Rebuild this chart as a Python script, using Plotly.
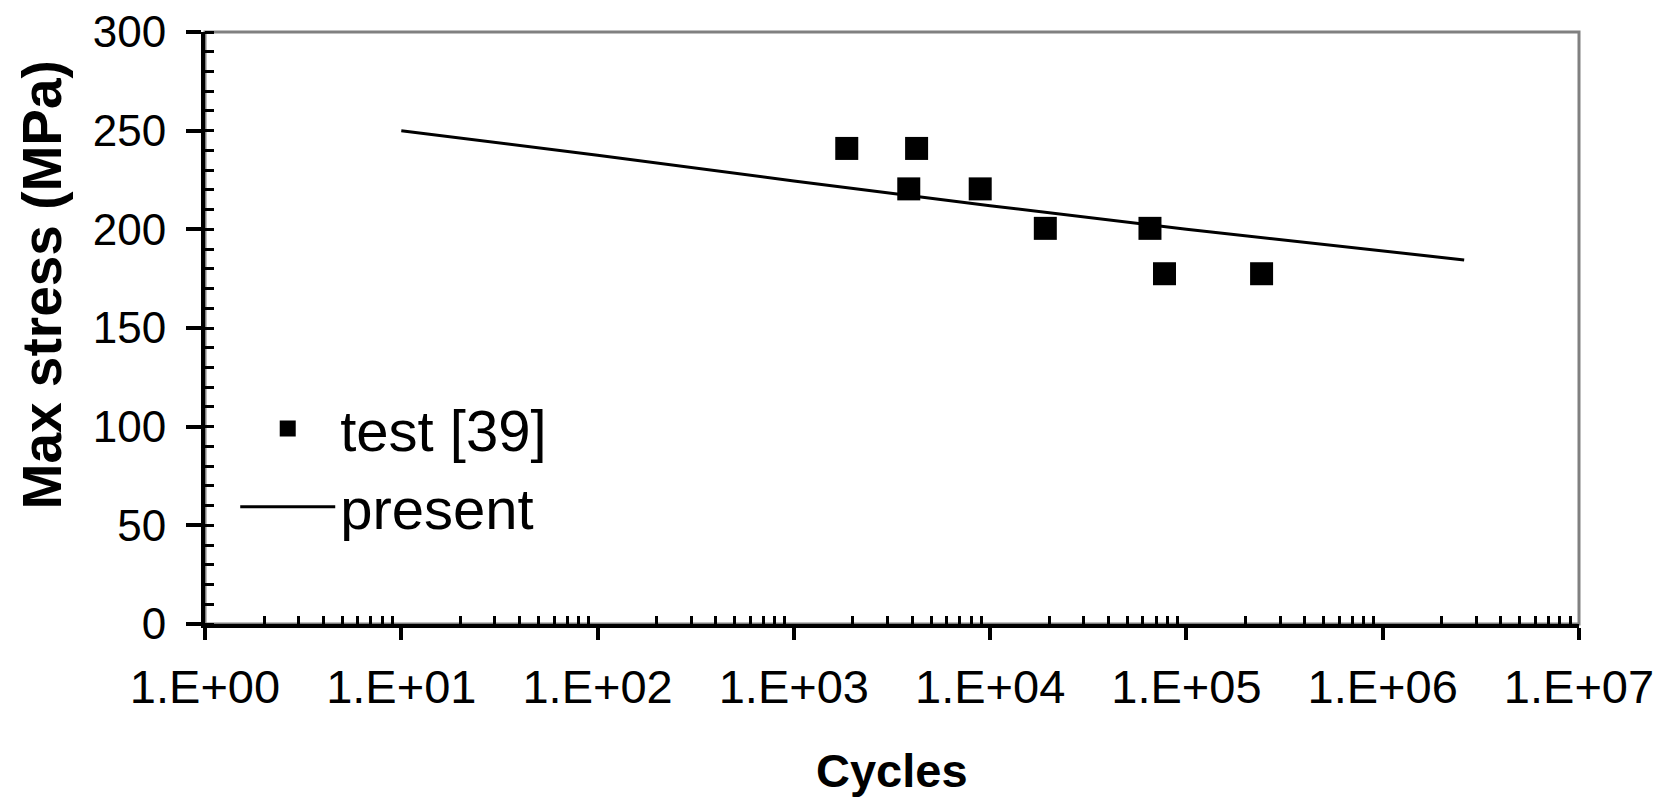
import plotly.graph_objects as go

# Test data [39]
test_cycles = [1860, 4220, 3850, 8900, 19100, 65200, 77300, 241500]
test_stress = [241, 241, 220.5, 220.5, 200.5, 200.5, 177.5, 177.5]

# Present model curve
present_cycles = [10, 100, 1000, 10000, 100000, 1000000, 2600000]
present_stress = [250, 237.5, 224.5, 212, 200, 189, 184.5]

x_tick_vals = [1, 10, 100, 1000, 10000, 100000, 1000000, 10000000]
x_tick_text = ["1.E+00", "1.E+01", "1.E+02", "1.E+03", "1.E+04", "1.E+05", "1.E+06", "1.E+07"]

minor_x = [k * 10 ** d for d in range(0, 7) for k in range(2, 10)]

FONT = "Liberation Sans, Arial, sans-serif"

fig = go.Figure()
fig.add_trace(go.Scatter(
    x=test_cycles, y=test_stress, mode="markers", name="test [39]",
    marker=dict(symbol="square", size=23, color="black", line=dict(width=0)),
))
fig.add_trace(go.Scatter(
    x=present_cycles, y=present_stress, mode="lines", name="present",
    line=dict(color="black", width=3),
))

fig.update_layout(
    width=1667, height=804,
    margin=dict(l=205, r=88, t=32, b=180, autoexpand=False),
    paper_bgcolor="white", plot_bgcolor="white",
    font=dict(family=FONT, color="black"),
    showlegend=True,
    legend=dict(
        x=0.022, y=0.405, xanchor="left", yanchor="top",
        font=dict(size=58, family=FONT, color="black"),
        bgcolor="rgba(0,0,0,0)", itemwidth=95, tracegroupgap=0,
    ),
    xaxis=dict(
        type="log", range=[0, 7], automargin=False,
        tickmode="array", tickvals=x_tick_vals, ticktext=x_tick_text,
        ticks="outside", ticklen=12, tickwidth=4, tickcolor="black",
        showline=True, linecolor="black", linewidth=4,
        showgrid=False, zeroline=False,
        tickfont=dict(size=47, family=FONT, color="black"),
        ticklabelstandoff=7,
        minor=dict(tickmode="array", tickvals=minor_x, ticks="inside",
                   ticklen=8, tickwidth=3, tickcolor="black", showgrid=False),
    ),
    yaxis=dict(
        range=[0, 300], tickmode="linear", tick0=0, dtick=50, automargin=False,
        ticks="outside", ticklen=15, tickwidth=4, tickcolor="black",
        showline=True, linecolor="black", linewidth=4,
        showgrid=False, zeroline=False,
        tickfont=dict(size=44, family=FONT, color="black"),
        ticklabelstandoff=11,
        minor=dict(dtick=10, ticks="inside", ticklen=9, tickwidth=3,
                   tickcolor="black", showgrid=False),
    ),
    shapes=[dict(type="rect", xref="x domain", yref="y domain",
                 x0=0, x1=1, y0=0, y1=1, layer="below",
                 line=dict(color="#808080", width=3))],
    annotations=[
        dict(text="Cycles", xref="paper", yref="paper", x=0.5, y=-0.248,
             xanchor="center", yanchor="middle", showarrow=False,
             font=dict(size=47, family=FONT, color="black", weight="bold")),
        dict(text="Max stress (MPa)", xref="paper", yref="paper",
             x=-0.1186, y=0.572, xanchor="center", yanchor="middle",
             textangle=-90, showarrow=False,
             font=dict(size=55, family=FONT, color="black", weight="bold")),
    ],
)

fig.write_html("out.html")
